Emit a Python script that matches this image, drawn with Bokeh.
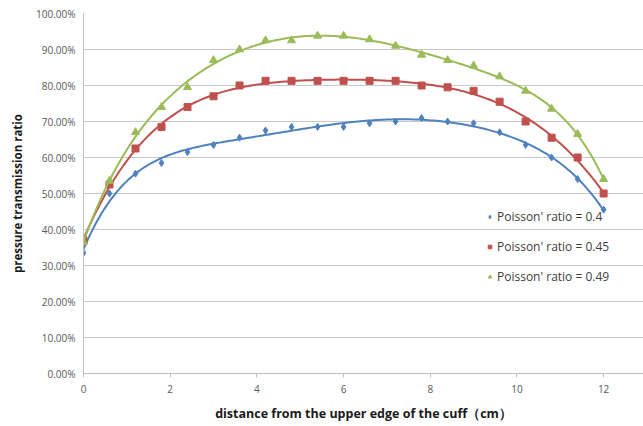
import numpy as np
from bokeh.plotting import figure
from bokeh.models import Range1d, PrintfTickFormatter, FixedTicker, Legend, LegendItem
from bokeh.embed import file_html
from bokeh.resources import INLINE

distance = [0, 0.6, 1.2, 1.8, 2.4, 3.0, 3.6, 4.2, 4.8, 5.4, 6.0, 6.6, 7.2, 7.8, 8.4, 9.0, 9.6, 10.2, 10.8, 11.4, 12.0]
ratio_040 = [33.5, 50.0, 55.5, 58.5, 61.5, 63.5, 65.5, 67.5, 68.5, 68.5, 68.5, 69.5, 70.0, 71.0, 70.0, 69.5, 67.0, 63.5, 60.0, 54.0, 45.5]
ratio_045 = [37.0, 52.5, 62.5, 68.5, 74.0, 77.0, 80.0, 81.3, 81.3, 81.3, 81.3, 81.3, 81.3, 80.0, 79.5, 78.5, 75.5, 70.0, 65.5, 60.0, 50.0]
ratio_049 = [36.5, 53.5, 67.0, 74.0, 79.5, 87.0, 90.0, 92.5, 92.5, 93.8, 93.8, 92.8, 91.0, 88.5, 87.0, 85.5, 82.5, 78.5, 73.5, 66.5, 54.0]
labels = ["Poisson' ratio = 0.4", "Poisson' ratio = 0.45", "Poisson' ratio = 0.49"]
x_ticks = [0, 2, 4, 6, 8, 10, 12]
y_ticks = [0, 10, 20, 30, 40, 50, 60, 70, 80, 90, 100]

colors = ["#4F81BD", "#C0504D", "#9BBB59"]
markers = ["diamond", "square", "triangle"]
sizes = [7, 7, 8]

p = figure(width=643, height=426, output_backend="svg", toolbar_location=None,
           x_range=Range1d(0, 12.92), y_range=Range1d(0, 100),
           min_border_left=83, min_border_right=0, min_border_top=13, min_border_bottom=53)
p.outline_line_color = None
p.background_fill_color = "white"
p.border_fill_color = "white"

p.xgrid.grid_line_color = None
p.ygrid.grid_line_color = "#C8C8C8"
p.ygrid.grid_line_width = 1

p.yaxis.ticker = FixedTicker(ticks=y_ticks)
p.yaxis.formatter = PrintfTickFormatter(format="%.2f%%")
p.xaxis.ticker = FixedTicker(ticks=x_ticks)

for ax in (p.xaxis[0], p.yaxis[0]):
    ax.axis_line_color = "#BFBFBF"
    ax.major_tick_line_color = "#BFBFBF"
    ax.minor_tick_line_color = None
    ax.major_label_text_font = "Open Sans"
    ax.major_label_text_font_size = "10px"
    ax.major_label_text_color = "#595959"
    ax.axis_label_text_font = "Open Sans"
    ax.axis_label_text_font_style = "bold"
    ax.axis_label_text_color = "#1a1a1a"

p.xaxis.axis_label_text_font_size = "12.5px"
p.yaxis.axis_label_text_font_size = "11.5px"
p.xaxis.major_tick_in = 0
p.xaxis.major_tick_out = 4
p.xaxis.major_label_standoff = 7
p.xaxis.axis_label = "distance from the upper edge of the cuff（cm）"
p.xaxis.axis_label_standoff = 9
p.yaxis.major_tick_in = 0
p.yaxis.major_tick_out = 0
p.yaxis.major_label_standoff = 8
p.yaxis.axis_label = "pressure transmission ratio"
p.yaxis.axis_label_standoff = 8

xs = np.array(distance)
xfine = np.linspace(0, 12, 200)
items = []
for ys, c, m, s, lab in zip([ratio_040, ratio_045, ratio_049], colors, markers, sizes, labels):
    coef = np.polyfit(xs, np.array(ys), 6)
    p.line(xfine, np.polyval(coef, xfine), line_color=c, line_width=2)
    r = p.scatter(distance, ys, marker=m, size=s, fill_color=c, line_color=c)
    items.append(LegendItem(label=lab, renderers=[r]))

legend = Legend(items=items, location=(402, 88), orientation="vertical",
                border_line_color=None, background_fill_alpha=0,
                label_text_font="Open Sans", label_text_font_size="12px",
                label_text_color="#404040", glyph_width=9, glyph_height=9,
                label_standoff=3, spacing=13, padding=0, margin=0,
                label_height=15)
p.add_layout(legend, "center")

open("out.html", "w").write(file_html(p, INLINE))
